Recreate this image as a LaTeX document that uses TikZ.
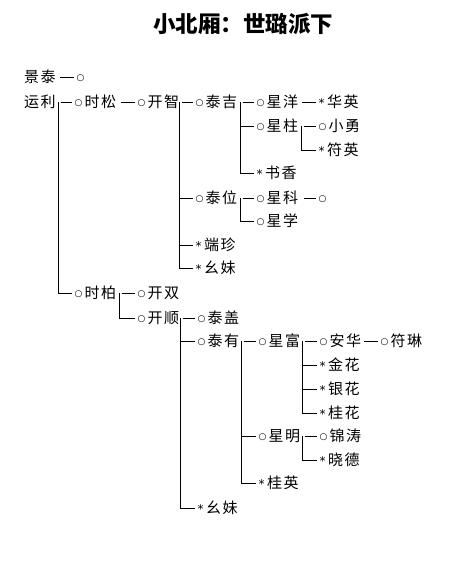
\documentclass[tikz,border=0pt]{standalone}
\usepackage{fontspec}
\setmainfont{DejaVu Sans}
\newfontfamily\cjk[LetterSpace=10]{Noto Sans CJK SC}
\newfontfamily\cjkt{Noto Sans CJK SC}
\newfontfamily\symf{DejaVu Sans}
\newcommand\ci{\makebox[12.5pt][c]{\raisebox{2.2pt}{\symf\fontsize{9}{9}\selectfont ○}}}
\newcommand\st{\makebox[11pt][c]{\raisebox{-0.2pt}{\symf\fontsize{12}{12}\selectfont *}}}
\tikzset{
  nm/.style={anchor=west, inner sep=0pt, font=\cjk\fontsize{15}{15}\selectfont, text height=12pt, text depth=0.6pt},
  ttl/.style={inner sep=0pt, font=\cjkt\bfseries\fontsize{22.5}{22.5}\selectfont},
  ln/.style={line width=0.8pt}
}
\begin{document}
\begin{tikzpicture}[x=1pt,y=-1pt]
\useasboundingbox[fill=white] (0,0) rectangle (448,561);
\node[ttl] (title) at (243,24) {小北厢：世璐派下};
% rows
\node[nm] (jt) at (24,77) {景泰};
\node[nm] (jtc) at (74,77) {\ci};
\node[nm] (yl) at (24,102) {运利};
\node[nm] (ss) at (72,102) {\ci 时松};
\node[nm] (kz) at (135,102) {\ci 开智};
\node[nm] (tj) at (193,102) {\ci 泰吉};
\node[nm] (xy) at (254,102) {\ci 星洋};
\node[nm] (hy) at (316,102) {\st 华英};
\node[nm] (xz) at (254,126) {\ci 星柱};
\node[nm] (xyong) at (316,126) {\ci 小勇};
\node[nm] (fy) at (316,150) {\st 符英};
\node[nm] (sx) at (254,173) {\st 书香};
\node[nm] (tw) at (193,198) {\ci 泰位};
\node[nm] (xk) at (254,198) {\ci 星科};
\node[nm] (xkc) at (316,198) {\ci};
\node[nm] (xx) at (254,221) {\ci 星学};
\node[nm] (rz) at (193,245) {\st 端珍};
\node[nm] (ymA) at (193,268) {\st 幺妹};
\node[nm] (sb) at (72,293) {\ci 时柏};
\node[nm] (ks) at (135,293) {\ci 开双};
\node[nm] (ksh) at (135,318) {\ci 开顺};
\node[nm] (tg) at (195,318) {\ci 泰盖};
\node[nm] (ty) at (195,341) {\ci 泰有};
\node[nm] (xf) at (256,341) {\ci 星富};
\node[nm] (ah) at (317,341) {\ci 安华};
\node[nm] (fl) at (378,341) {\ci 符琳};
\node[nm] (jh) at (317,365) {\st 金花};
\node[nm] (yh) at (317,389) {\st 银花};
\node[nm] (gh) at (317,413) {\st 桂花};
\node[nm] (xm) at (256,436) {\ci 星明};
\node[nm] (jtao) at (317,436) {\ci 锦涛};
\node[nm] (xd) at (317,460) {\st 晓德};
\node[nm] (gy) at (256,483) {\st 桂英};
\node[nm] (ymB) at (195,508) {\st 幺妹};
% connector start points
\coordinate (cjt) at (60,77);
\coordinate (byl) at (58,102);
\coordinate (css) at (121,102);
\coordinate (bkz) at (179,102);
\coordinate (btj) at (240,102);
\coordinate (cxy) at (302,102);
\coordinate (bxz) at (301,126);
\coordinate (btw) at (240,198);
\coordinate (cxk) at (304,198);
\coordinate (bsb) at (119,293);
\coordinate (bksh) at (180,318);
\coordinate (bty) at (241,341);
\coordinate (bxf) at (302,341);
\coordinate (cah) at (364,341);
\coordinate (bxm) at (302,436);
% connectors
\draw[ln] (cjt) -- (jtc.west);
\draw[ln] ([xshift=2.5pt]byl) -- (ss.west);
\draw[ln] (byl) |- (sb.west);
\draw[ln] (css) -- (kz.west);
\draw[ln] ([xshift=2.5pt]bkz) -- (tj.west);
\draw[ln] (bkz) |- (tw.west);
\draw[ln] (bkz) |- (rz.west);
\draw[ln] (bkz) |- (ymA.west);
\draw[ln] ([xshift=2.5pt]btj) -- (xy.west);
\draw[ln] (btj) |- (xz.west);
\draw[ln] (btj) |- (sx.west);
\draw[ln] (cxy) -- (hy.west);
\draw[ln] ([xshift=2.5pt]bxz) -- (xyong.west);
\draw[ln] (bxz) |- (fy.west);
\draw[ln] ([xshift=2.5pt]btw) -- (xk.west);
\draw[ln] (btw) |- (xx.west);
\draw[ln] (cxk) -- (xkc.west);
\draw[ln] ([xshift=2.5pt]bsb) -- (ks.west);
\draw[ln] (bsb) |- (ksh.west);
\draw[ln] ([xshift=2.5pt]bksh) -- (tg.west);
\draw[ln] (bksh) |- (ty.west);
\draw[ln] (bksh) |- (ymB.west);
\draw[ln] ([xshift=2.5pt]bty) -- (xf.west);
\draw[ln] (bty) |- (xm.west);
\draw[ln] (bty) |- (gy.west);
\draw[ln] ([xshift=2.5pt]bxf) -- (ah.west);
\draw[ln] (bxf) |- (jh.west);
\draw[ln] (bxf) |- (yh.west);
\draw[ln] (bxf) |- (gh.west);
\draw[ln] (cah) -- (fl.west);
\draw[ln] ([xshift=2.5pt]bxm) -- (jtao.west);
\draw[ln] (bxm) |- (xd.west);
\end{tikzpicture}
\end{document}
